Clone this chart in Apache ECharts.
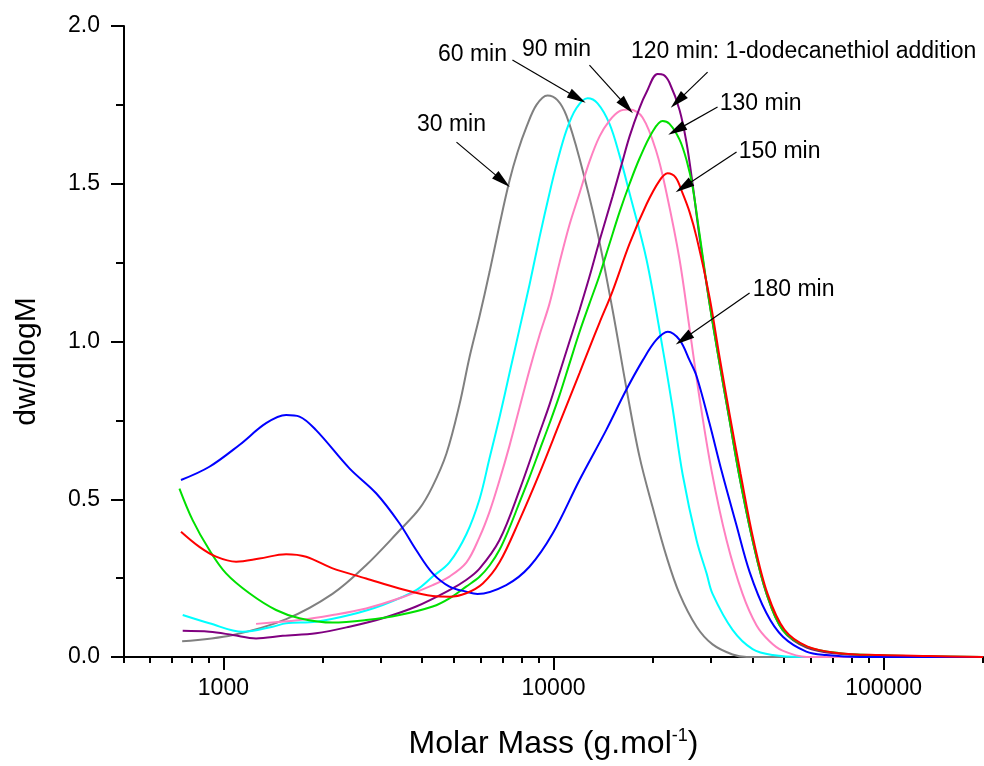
<!DOCTYPE html>
<html>
<head>
<meta charset="utf-8">
<title>dw/dlogM vs molar mass</title>
<script src="https://cdn.jsdelivr.net/npm/echarts@6/dist/echarts.min.js"></script>
<style>
html, body {margin:0; padding:0; background:#fff;}
#chart {width:984px; height:766px;}
</style>
</head>
<body>
<div id="chart"></div>
<script>
// molar mass (g/mol) and dw/dlogM for each sampling time
var m30  = [750, 1070, 1550, 2140, 2700, 3410, 3926, 4298, 4740, 5190, 5566, 5969, 6400, 6863, 7359, 7781, 8283, 8881, 9590, 10280, 10950, 11990, 13500, 15100, 16640, 18220, 19950, 22000, 24090, 27130, 30330, 34870, 38450, 60000, 200000];
var w30  = [0.05, 0.07, 0.12, 0.20, 0.29, 0.40, 0.47, 0.54, 0.645, 0.80, 0.95, 1.08, 1.22, 1.37, 1.51, 1.60, 1.68, 1.75, 1.78, 1.765, 1.715, 1.58, 1.36, 1.10, 0.85, 0.635, 0.476, 0.318, 0.20, 0.096, 0.04, 0.008, 0, 0, 0];

var m60  = [753, 907, 1144, 1410, 1549, 1909, 2409, 3039, 3837, 4306, 4840, 5450, 5969, 6400, 6863, 7359, 7889, 8459, 9070, 9725, 10210, 10950, 11740, 12680, 13600, 14780, 15850, 17000, 19130, 21400, 22940, 24600, 27130, 29090, 30330, 34870, 40090, 46100, 56430, 200000];
var w60  = [0.133, 0.107, 0.080, 0.096, 0.107, 0.112, 0.133, 0.165, 0.212, 0.255, 0.30, 0.39, 0.50, 0.63, 0.76, 0.90, 1.04, 1.18, 1.33, 1.47, 1.56, 1.67, 1.74, 1.771, 1.755, 1.69, 1.59, 1.47, 1.26, 0.98, 0.79, 0.58, 0.37, 0.265, 0.20, 0.086, 0.025, 0.006, 0, 0];

var m90  = [1256, 1700, 2143, 2706, 3414, 4306, 4840, 5450, 5969, 6400, 6863, 7359, 7889, 8459, 9070, 9725, 10430, 11180, 11990, 12850, 13790, 14780, 15850, 17000, 18610, 20520, 22000, 24090, 25840, 27700, 30120, 33440, 37390, 41230, 45120, 49420, 58440, 200000];
var w90  = [0.105, 0.117, 0.133, 0.154, 0.186, 0.228, 0.255, 0.30, 0.38, 0.46, 0.56, 0.67, 0.79, 0.91, 1.02, 1.12, 1.25, 1.37, 1.47, 1.57, 1.65, 1.70, 1.73, 1.735, 1.71, 1.60, 1.47, 1.26, 1.04, 0.82, 0.59, 0.37, 0.20, 0.10, 0.05, 0.02, 0, 0];

var m120 = [753, 907, 1067, 1256, 1512, 1909, 2409, 3039, 3837, 4840, 5437, 5969, 6863, 7889, 9070, 9725, 10430, 11180, 11990, 12850, 13790, 15100, 16070, 17000, 18220, 19130, 20670, 21540, 22460, 24090, 25290, 26380, 27700, 29700, 31850, 34150, 36610, 40090, 44210, 49420, 58440, 73560, 92820, 117200, 200000];
var w120 = [0.083, 0.080, 0.070, 0.059, 0.067, 0.075, 0.096, 0.123, 0.160, 0.212, 0.244, 0.28, 0.371, 0.529, 0.71, 0.80, 0.90, 1.00, 1.10, 1.205, 1.32, 1.46, 1.56, 1.65, 1.74, 1.79, 1.848, 1.845, 1.82, 1.734, 1.63, 1.50, 1.33, 1.12, 0.93, 0.75, 0.57, 0.37, 0.20, 0.086, 0.03, 0.01, 0.005, 0.002, 0];

var m130 = [736, 807, 907, 1019, 1199, 1444, 1700, 2143, 2706, 3414, 4306, 4840, 5437, 5969, 6400, 6863, 7359, 7889, 8459, 9070, 9725, 10430, 11180, 11990, 12850, 13790, 14780, 15850, 17000, 18220, 19950, 21400, 22460, 24090, 25290, 26380, 27700, 29700, 31850, 34150, 36610, 40090, 44210, 49420, 58440, 73560, 92820, 117200, 200000];
var w130 = [0.534, 0.434, 0.339, 0.265, 0.202, 0.149, 0.123, 0.109, 0.117, 0.133, 0.160, 0.186, 0.223, 0.254, 0.29, 0.34, 0.41, 0.49, 0.57, 0.655, 0.74, 0.83, 0.93, 1.03, 1.12, 1.21, 1.31, 1.41, 1.50, 1.58, 1.665, 1.699, 1.69, 1.64, 1.575, 1.49, 1.34, 1.12, 0.93, 0.75, 0.57, 0.37, 0.20, 0.086, 0.033, 0.012, 0.006, 0.003, 0];

var m150 = [744, 846, 950, 1093, 1286, 1549, 1781, 2143, 2706, 3414, 4306, 4840, 5437, 6107, 6863, 7889, 9070, 10430, 11990, 12850, 13790, 15100, 17000, 19130, 20950, 22160, 23430, 24600, 25840, 27130, 29700, 31850, 34150, 36880, 40370, 44520, 50120, 58850, 73560, 97250, 137900, 200000];
var w150 = [0.397, 0.349, 0.318, 0.302, 0.312, 0.326, 0.318, 0.281, 0.249, 0.217, 0.193, 0.191, 0.202, 0.233, 0.30, 0.434, 0.582, 0.741, 0.90, 0.98, 1.06, 1.16, 1.31, 1.435, 1.51, 1.533, 1.52, 1.47, 1.41, 1.33, 1.14, 0.95, 0.77, 0.58, 0.37, 0.20, 0.086, 0.033, 0.012, 0.006, 0.003, 0];

var m180 = [744, 907, 1118, 1347, 1549, 1700, 1909, 2409, 2902, 3414, 3837, 4306, 4840, 5437, 5886, 7192, 8455, 9952, 11990, 14440, 16600, 18650, 20480, 22200, 24090, 25840, 27130, 29700, 32290, 35780, 39260, 44110, 49530, 58320, 67060, 84600, 200000];
var w180 = [0.561, 0.603, 0.672, 0.741, 0.767, 0.762, 0.719, 0.598, 0.519, 0.424, 0.339, 0.265, 0.223, 0.207, 0.20, 0.228, 0.286, 0.392, 0.561, 0.719, 0.846, 0.941, 1.005, 1.031, 1.005, 0.94, 0.89, 0.74, 0.59, 0.42, 0.27, 0.14, 0.064, 0.017, 0.006, 0, 0];

// axis ticks
var majorTicks = [1000, 10000, 100000];
var minorTicks = [500, 600, 700, 800, 900, 2000, 3000, 4000, 5000, 6000, 7000, 8000, 9000,
                  20000, 30000, 40000, 50000, 60000, 70000, 80000, 90000, 200000];

// annotations: text, text centre [M, y], arrow tail [M, y], arrow tip [M, y]
var noteText = ['30 min', '60 min', '90 min', '120 min: 1-dodecanethiol addition', '130 min', '150 min', '180 min'];
var notePos  = [[4909, 1.686], [5683, 1.908], [10210, 1.924], [57240, 1.918], [42410, 1.753], [48400, 1.601], [53370, 1.163]];
var arrowFrom = [[5083, 1.632], [7510, 1.892], [12850, 1.876], [29290, 1.854], [31400, 1.743], [35850, 1.601], [39260, 1.154]];
var arrowTo   = [[7009, 1.509], [11820, 1.772], [16640, 1.746], [23760, 1.762], [23590, 1.670], [24770, 1.490], [24770, 1.008]];

var FONT = 'Liberation Sans, Arial, Helvetica, sans-serif';

function zip(xs, ys) {
    var out = [];
    for (var i = 0; i < xs.length; i++) out.push([xs[i], ys[i]]);
    return out;
}

function curve(name, xs, ys, color, extra) {
    var s = {
        name: name, type: 'line', data: zip(xs, ys),
        showSymbol: false, smooth: 0.35, clip: true,
        lineStyle: {color: color, width: 2},
        itemStyle: {color: color},
        silent: true, animation: false
    };
    if (extra) for (var k in extra) s[k] = extra[k];
    return s;
}

var arrowLines = [];
var noteLabels = [];
for (var i = 0; i < noteText.length; i++) {
    arrowLines.push([
        {coord: arrowFrom[i], symbol: 'none'},
        {coord: arrowTo[i], symbol: 'path://M5,0 L10,20 L0,20 Z', symbolSize: [10, 19]}
    ]);
    noteLabels.push({name: noteText[i], coord: notePos[i]});
}

var annot = {
    markLine: {
        silent: true, animation: false,
        symbol: ['none', 'arrow'],
        lineStyle: {color: '#000', width: 1.2, type: 'solid'},
        label: {show: false},
        emphasis: {disabled: true},
        data: arrowLines
    },
    markPoint: {
        silent: true, animation: false,
        symbol: 'circle', symbolSize: 0,
        itemStyle: {color: 'transparent'},
        label: {show: true, position: 'inside', color: '#000', fontSize: 23, fontFamily: FONT,
                formatter: function (p) { return p.name; }},
        data: noteLabels
    }
};

var option = {
    backgroundColor: '#fff',
    animation: false,
    grid: {left: 124, top: 26, right: 1, bottom: 109, containLabel: false, outerBoundsMode: 'none'},
    xAxis: [{
        type: 'log', logBase: 10, min: 500, max: 200000, position: 'bottom',
        axisLine: {show: true, onZero: false, lineStyle: {color: '#000', width: 2}},
        axisTick: {show: true, length: 13, lineStyle: {color: '#000', width: 2}, customValues: majorTicks},
        axisLabel: {show: true, customValues: majorTicks, color: '#000', fontSize: 23, fontFamily: FONT, margin: 20,
                    formatter: function (v) { return String(Math.round(v)); }},
        splitLine: {show: false},
        name: '{a|Molar Mass (g.mol}{b|-1}{a|)}',
        nameLocation: 'middle', nameGap: 70,
        nameTextStyle: {
            color: '#000', fontFamily: FONT,
            rich: {
                a: {fontSize: 32, fontFamily: FONT, color: '#000', lineHeight: 34},
                b: {fontSize: 18, fontFamily: FONT, color: '#000', verticalAlign: 'top', lineHeight: 19}
            }
        }
    }, {
        type: 'log', logBase: 10, min: 500, max: 200000, position: 'bottom', offset: 0,
        axisLine: {show: false, onZero: false},
        axisTick: {show: true, length: 6, lineStyle: {color: '#000', width: 2}, customValues: minorTicks},
        axisLabel: {show: false},
        splitLine: {show: false}
    }],
    yAxis: {
        type: 'value', min: 0, max: 2, interval: 0.5,
        axisLine: {show: true, onZero: false, lineStyle: {color: '#000', width: 2}},
        axisTick: {show: true, length: 13, lineStyle: {color: '#000', width: 2}},
        minorTick: {show: true, splitNumber: 2, length: 8, lineStyle: {color: '#000', width: 2}},
        splitLine: {show: false},
        minorSplitLine: {show: false},
        axisLabel: {color: '#000', fontSize: 23, fontFamily: FONT, margin: 24,
                    formatter: function (v) { return v.toFixed(1); }},
        name: 'dw/dlogM', nameLocation: 'middle', nameGap: 82,
        nameTextStyle: {color: '#000', fontSize: 30, fontFamily: FONT, padding: [0, 40, 0, 0]}
    },
    series: [
        curve('30 min', m30, w30, '#808080', annot),
        curve('60 min', m60, w60, '#00ffff'),
        curve('90 min', m90, w90, '#ff80c0'),
        curve('120 min', m120, w120, '#800080'),
        curve('130 min', m130, w130, '#00e000'),
        curve('180 min', m180, w180, '#0000ff'),
        curve('150 min', m150, w150, '#ff0000')
    ]
};

var chart = echarts.init(document.getElementById('chart'), null, {renderer: 'canvas'});
chart.setOption(option);
</script>
</body>
</html>
